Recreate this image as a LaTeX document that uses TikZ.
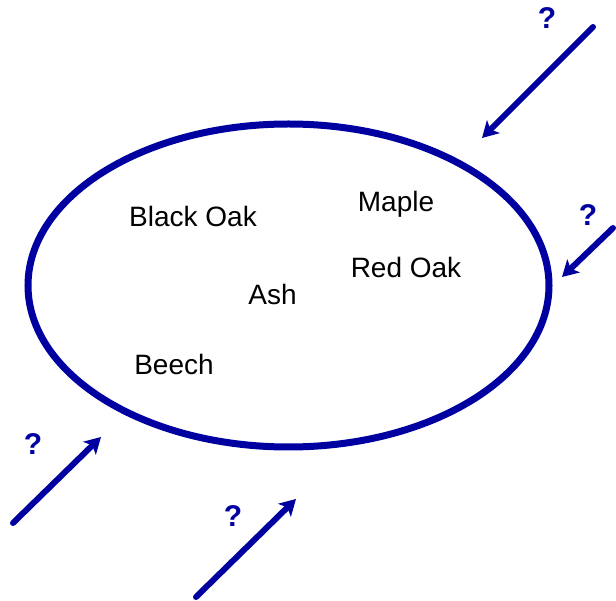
\documentclass[tikz,border=0pt]{standalone}
\usepackage{fontspec}
\setmainfont{Liberation Sans}
\usetikzlibrary{shapes.geometric,arrows.meta}
\definecolor{dblue}{RGB}{0,0,160}
\tikzset{
  tree/.style={anchor=base, font=\fontsize{28}{30}\selectfont, text=black, inner sep=0pt},
  qmark/.style={anchor=base, font=\bfseries\fontsize{30}{32}\selectfont, text=dblue, inner sep=0pt},
  flow/.style={draw=dblue, line width=6pt, line cap=round, -{Stealth[length=16pt,width=18pt,inset=4pt]}},
  ring/.style={draw=dblue, line width=7pt, ellipse, minimum width=521pt, minimum height=323pt, inner sep=0pt}
}
\begin{document}
\begin{tikzpicture}[x=1pt,y=-1pt]
\useasboundingbox (0,0) rectangle (616,601);
\node[ring] (set) at (288.5,285.5) {};
\node[tree] (blackoak) at (193,227) {Black Oak};
\node[tree] (maple) at (396,212) {Maple};
\node[tree] (redoak) at (406,278) {Red Oak};
\node[tree] (ash) at (272.5,305) {Ash};
\node[tree] (beech) at (174,375) {Beech};
\node[qmark] (q1) at (547,29) {?};
\node[qmark] (q2) at (588,226) {?};
\node[qmark] (q3) at (33,455) {?};
\node[qmark] (q4) at (233,526) {?};
\coordinate (a1s) at (593,27);
\coordinate (a1e) at (482,138);
\coordinate (a2s) at (613,228);
\coordinate (a2e) at (562,277);
\coordinate (a3s) at (13,523);
\coordinate (a3e) at (101,437);
\coordinate (a4s) at (196,597);
\coordinate (a4e) at (296,499);
\draw[flow] (a1s) -- (a1e);
\draw[flow] (a2s) -- (a2e);
\draw[flow] (a3s) -- (a3e);
\draw[flow] (a4s) -- (a4e);
\end{tikzpicture}
\end{document}
